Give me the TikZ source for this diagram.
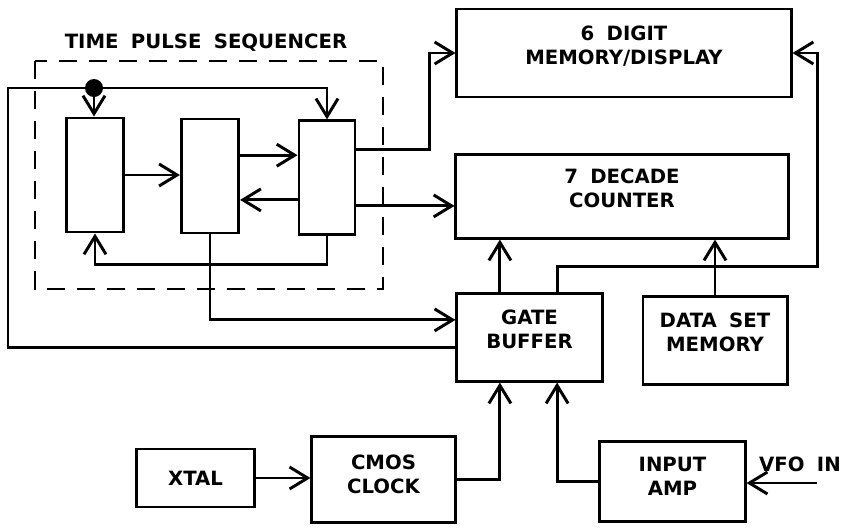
\documentclass[tikz,border=0pt]{standalone}
\usepackage{fontspec}
\setmainfont{DejaVu Sans}[WordSpace=1.8]
\usetikzlibrary{arrows.meta}

\begin{document}
\begin{tikzpicture}[
    x=0.025cm, y=-0.025cm,
    font=\fontsize{14}{17}\selectfont\bfseries,
    block/.style={draw=black, line width=2.1pt, align=center, inner sep=0pt},
    seq block/.style={block, minimum width=1.43cm, minimum height=2.85cm},
    raised text/.style={text depth=0.4cm},
    arrow line/.style={-{Straight Barb[length=4.5mm, width=5.5mm]}, line width=2.1pt},
    plain line/.style={line width=2.1pt},
    frame line/.style={line width=1.8pt, dash pattern=on 0.45cm off 0.3cm},
    dot node/.style={circle, fill=black, inner sep=0pt, minimum size=0.45cm},
    label text/.style={inner sep=0pt}
]
    \useasboundingbox (0,0) rectangle (846,527);

    % Sequencer
    \node[label text] (title) at (206,43) {TIME PULSE SEQUENCER};
    \draw[frame line] (35,61) rectangle (383,289);
    \node[seq block] (seq1) at (95,175) {};
    \node[seq block] (seq2) at (210,176) {};
    \node[seq block, minimum width=1.4cm, minimum height=2.83cm] (seq3) at (327,177.5) {};
    \node[dot node] (dot) at (94,88) {};
    \coordinate (fbcorner) at (8,88);

    % Blocks
    \node[block, raised text, minimum width=8.35cm, minimum height=2.2cm] (digit) at (624,53) {6 DIGIT\\MEMORY/DISPLAY};
    \node[block, raised text, minimum width=8.3cm, minimum height=2.08cm] (counter) at (622,196.5) {7 DECADE\\COUNTER};
    \node[block, raised text, minimum width=3.63cm, minimum height=2.18cm] (gate) at (529.5,337.5) {GATE\\BUFFER};
    \node[block, raised text, minimum width=3.6cm, minimum height=2.18cm] (dataset) at (715,340.5) {DATA SET\\MEMORY};
    \node[block, minimum width=2.93cm, minimum height=1.45cm] (xtal) at (195.5,478) {XTAL};
    \node[block, text depth=0.25cm, minimum width=3.58cm, minimum height=2.13cm] (clock) at (383.5,479.5) {CMOS\\CLOCK};
    \node[block, text depth=0.25cm, minimum width=3.63cm, minimum height=2.0cm] (amp) at (672.5,481.5) {INPUT\\AMP};
    \node[label text] (vfo) at (800,464) {VFO IN};
    \coordinate (vfoin) at (817,483);

    % Sequencer lines
    \draw[arrow line] (dot.center) -- (dot.center |- seq1.north);
    \draw[arrow line] (dot.center) -| (seq3.north);
    \draw[plain line] ([yshift=-0.24cm]gate.west) -| (fbcorner) -- (dot.center);
    \draw[arrow line] (seq1.east) -- (seq1.east -| seq2.west);
    \draw[arrow line] ([yshift=0.52cm]seq2.east) -- ([yshift=0.52cm]seq2.east -| seq3.west);
    \draw[arrow line] ([yshift=-0.56cm]seq3.west) -- ([yshift=-0.56cm]seq3.west -| seq2.east);
    \draw[arrow line] (seq3.south) -- ++(0,29) -| (seq1.south);
    \draw[arrow line] (seq2.south) |- ([yshift=0.44cm]gate.west);

    % Outputs
    \draw[arrow line] ([yshift=0.69cm]seq3.east) -- ++(73,0) |- (digit.west);
    \draw[arrow line] ([yshift=-0.71cm]seq3.east) -- ([yshift=-0.71cm]seq3.east -| counter.west);
    \draw[arrow line] ([xshift=-0.74cm]gate.north) -- ([xshift=-0.74cm]gate.north |- counter.south);
    \draw[arrow line] ([xshift=0.69cm]gate.north) -- ++(0,-26) -- ++(260,0) |- (digit.east);
    \draw[arrow line] (dataset.north) -- (dataset.north |- counter.south);

    % Inputs
    \draw[arrow line] (xtal.east) -- (xtal.east -| clock.west);
    \draw[arrow line] (clock.east) -| ([xshift=-0.74cm]gate.south);
    \draw[arrow line] (amp.west) -| ([xshift=0.69cm]gate.south);
    \draw[arrow line] (vfoin) -- (vfoin -| amp.east);

\end{tikzpicture}
\end{document}
